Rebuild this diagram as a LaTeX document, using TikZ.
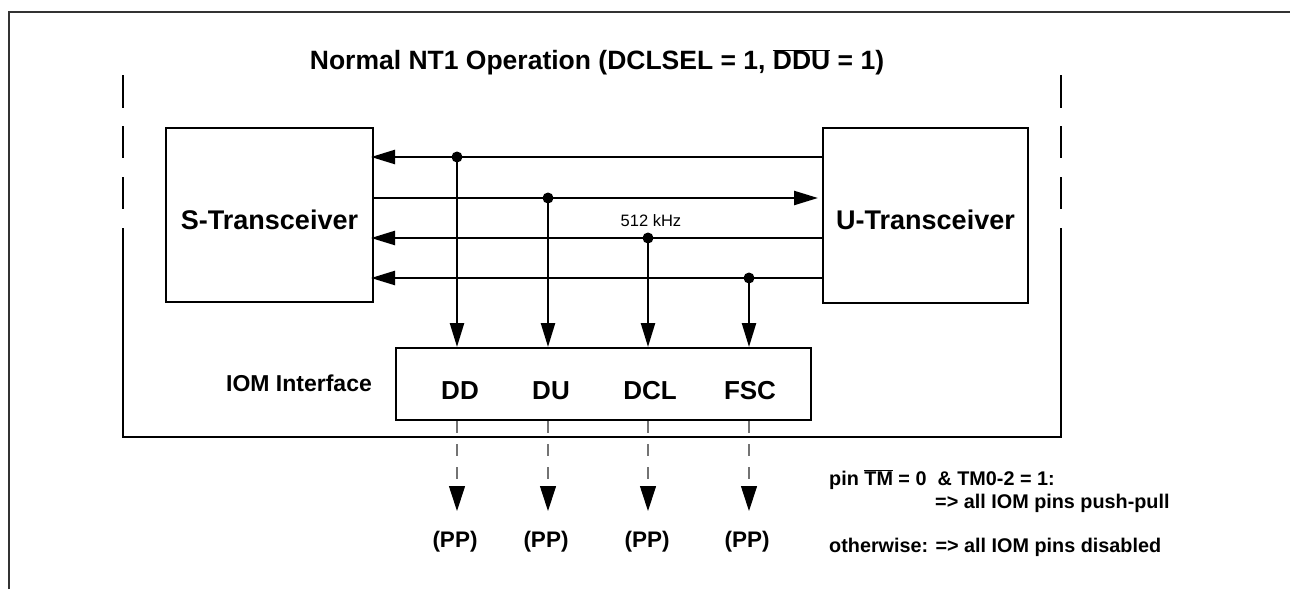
\documentclass[tikz,border=0pt]{standalone}
\usepackage{fontspec}
\setmainfont{Liberation Sans}
\usetikzlibrary{arrows.meta}
\newcommand\ovl[1]{\ensuremath{\overline{\hbox{#1}}}}
\begin{document}
\begin{tikzpicture}[x=1pt,y=-1pt,
  frame/.style={line width=1.5pt,black!80},
  wall/.style={line width=2.4pt},
  blockbox/.style={draw,line width=2pt,inner sep=0pt},
  bus/.style={line width=2.4pt,-{Triangle[length=24pt,width=14pt]}},
  pinline/.style={line width=1.1pt,black!55,dash pattern=on 12pt off 11pt,
                  -{Triangle[length=25pt,width=16pt,color=black,fill=black]}},
  titletxt/.style={font=\bfseries\fontsize{26.5}{30}\selectfont},
  bigtxt/.style={font=\bfseries\fontsize{27}{30}\selectfont},
  pintxt/.style={font=\bfseries\fontsize{26}{30}\selectfont},
  midtxt/.style={font=\bfseries\fontsize{23}{27}\selectfont},
  pptxt/.style={font=\bfseries\fontsize{22.5}{26}\selectfont},
  smalltxt/.style={font=\bfseries\fontsize{19.8}{23}\selectfont},
  freqtxt/.style={font=\fontsize{16.5}{20}\selectfont},
  joint/.style={radius=5.5pt}]
\useasboundingbox (0,0) rectangle (1290,589);

% page frame
\draw[frame] (9,589) -- (9,12) -- (1290,12);

% chip boundary with broken upper sides
\draw[wall] (123,75) -- (123,108);
\draw[wall] (123,126) -- (123,158);
\draw[wall] (123,177) -- (123,209);
\draw[wall] (1061,75) -- (1061,108);
\draw[wall] (1061,126) -- (1061,158);
\draw[wall] (1061,177) -- (1061,209);
\draw[wall] (123,228) -- (123,437) -- (1061,437) -- (1061,228);

% title
\node[titletxt] (title) at (597,62) {Normal NT1 Operation (DCLSEL = 1, \ovl{DDU} = 1)};

% blocks
\node[blockbox,minimum width=207pt,minimum height=174pt] (S) at (269.5,215) {};
\node[bigtxt] (Slbl) at (269.5,220) {S-Transceiver};
\node[blockbox,minimum width=205pt,minimum height=175pt] (U) at (925.5,215.5) {};
\node[bigtxt] (Ulbl) at (925.5,220) {U-Transceiver};
\node[blockbox,minimum width=415pt,minimum height=72pt] (IOM) at (603.5,384) {};
\node[midtxt] (iomlbl) at (299,383) {IOM Interface};

% bus junctions
\coordinate (d1) at (457,157);
\coordinate (d2) at (548,198);
\coordinate (d3) at (648,238);
\coordinate (d4) at (749,278);

% horizontal buses
\draw[bus,shorten >=-3pt] (U.west |- d1) -- (S.east |- d1);
\draw[bus,shorten >=4pt] (S.east |- d2) -- (U.west |- d2);
\draw[bus,shorten >=-3pt] (U.west |- d3) -- (S.east |- d3);
\draw[bus,shorten >=-3pt] (U.west |- d4) -- (S.east |- d4);
\node[freqtxt] (clk) at (651,221) {512 kHz};

% taps down to the IOM interface
\draw[bus] (d1) -- (d1 |- IOM.north);
\draw[bus] (d2) -- (d2 |- IOM.north);
\draw[bus] (d3) -- (d3 |- IOM.north);
\draw[bus] (d4) -- (d4 |- IOM.north);
\foreach \d in {d1,d2,d3,d4} \fill (\d) circle[joint];

% pin names
\node[pintxt] (pDD) at (460,391) {DD};
\node[pintxt] (pDU) at (551,391) {DU};
\node[pintxt] (pDCL) at (650,391) {DCL};
\node[pintxt] (pFSC) at (750,391) {FSC};

% pin outputs
\foreach \d/\n in {d1/o1,d2/o2,d3/o3,d4/o4} {
  \coordinate (\n) at ([yshift=-90pt]\d |- IOM.south);
  \draw[pinline] (\d |- IOM.south) -- (\n);
}
\node[pptxt] (pp1) at (455,542) {(PP)};
\node[pptxt] (pp2) at (546,542) {(PP)};
\node[pptxt] (pp3) at (647,542) {(PP)};
\node[pptxt] (pp4) at (747,542) {(PP)};

% mode notes
\node[smalltxt,anchor=base west,inner sep=0pt] (n1) at (829,485) {pin \ovl{TM} = 0~~\& TM0-2 = 1:};
\node[smalltxt,anchor=base west,inner sep=0pt] (n2) at (935,508) {=> all IOM pins push-pull};
\node[smalltxt,anchor=base west,inner sep=0pt] (n3) at (829,552) {otherwise: => all IOM pins disabled};
\end{tikzpicture}
\end{document}
